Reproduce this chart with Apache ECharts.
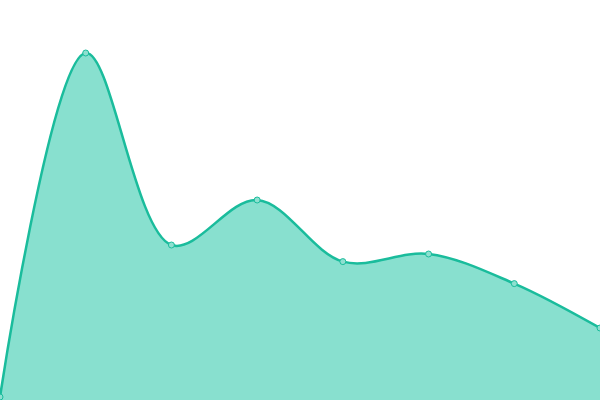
<!DOCTYPE html>
<html>
<head>
<meta charset="utf-8">
<script src="https://cdn.jsdelivr.net/npm/echarts@6/dist/echarts.min.js"></script>
<style>html,body{margin:0;padding:0;background:#fff}#c{width:600px;height:400px}</style>
</head>
<body>
<div id="c"></div>
<script>
const categories = ['1','2','3','4','5','6','7','8'];
const values = [0.75, 86.75, 38.75, 50, 34.6, 36.5, 29.1, 18];

// centripetal Catmull-Rom (alpha 0.5) path through points
function catmullRom(ctx, pts, startWithLine) {
  const alpha = 0.5, eps = 1e-12;
  let x0, y0, x1, y1, x2, y2;
  let l01_a = 0, l12_a = 0, l23_a = 0, l01_2a = 0, l12_2a = 0, l23_2a = 0, p = 0;
  function seg(x, y) {
    let cx1 = x1, cy1 = y1, cx2 = x2, cy2 = y2;
    if (l01_a > eps) {
      const a = 2 * l01_2a + 3 * l01_a * l12_a + l12_2a,
            n = 3 * l01_a * (l01_a + l12_a);
      cx1 = (x1 * a - x0 * l12_2a + x2 * l01_2a) / n;
      cy1 = (y1 * a - y0 * l12_2a + y2 * l01_2a) / n;
    }
    if (l23_a > eps) {
      const b = 2 * l23_2a + 3 * l23_a * l12_a + l12_2a,
            m = 3 * l23_a * (l23_a + l12_a);
      cx2 = (x2 * b + x1 * l23_2a - x * l12_2a) / m;
      cy2 = (y2 * b + y1 * l23_2a - y * l12_2a) / m;
    }
    ctx.bezierCurveTo(cx1, cy1, cx2, cy2, x2, y2);
  }
  function point(x, y) {
    if (p) {
      const dx = x2 - x, dy = y2 - y;
      l23_2a = Math.pow(dx * dx + dy * dy, alpha);
      l23_a = Math.sqrt(l23_2a);
    }
    switch (p) {
      case 0: p = 1; startWithLine ? ctx.lineTo(x, y) : ctx.moveTo(x, y); break;
      case 1: p = 2; break;
      case 2: p = 3; // falls through
      default: seg(x, y); break;
    }
    l01_a = l12_a; l12_a = l23_a; l01_2a = l12_2a; l12_2a = l23_2a;
    x0 = x1; x1 = x2; x2 = x; y0 = y1; y1 = y2; y2 = y;
  }
  pts.forEach(q => point(q[0], q[1]));
  if (p === 2) ctx.lineTo(x2, y2);
  else if (p === 3) point(x2, y2);
}

echarts.graphic.registerShape('crLine', echarts.graphic.extendShape({
  shape: {points: []},
  buildPath(ctx, shape) { catmullRom(ctx, shape.points, false); }
}));
echarts.graphic.registerShape('crArea', echarts.graphic.extendShape({
  shape: {points: [], baseY: 0},
  buildPath(ctx, shape) {
    const pts = shape.points;
    if (!pts.length) return;
    ctx.moveTo(pts[0][0], shape.baseY);
    catmullRom(ctx, pts, true);
    ctx.lineTo(pts[pts.length - 1][0], shape.baseY);
    ctx.closePath();
  }
}));

const chart = echarts.init(document.getElementById('c'));
chart.setOption({
  animation: false,
  grid: {left: 0, right: 0, top: 0, bottom: 0},
  xAxis: {type: 'category', data: categories, boundaryGap: false, show: false},
  yAxis: {type: 'value', min: 0, max: 100, show: false},
  series: [{
    type: 'custom',
    data: values.map((v, k) => [k, v]),
    renderItem(params, api) {
      const i = params.dataIndex;
      const c = api.coord([api.value(0), api.value(1)]);
      const circle = {
        type: 'circle', z2: 10,
        shape: {cx: c[0], cy: c[1], r: 3},
        style: {fill: '#8ee0d0', stroke: '#1abc9c', lineWidth: 1}
      };
      if (i !== 0) return circle;
      const pts = values.map((v, k) => api.coord([k, v]));
      const baseY = api.coord([0, 0])[1];
      return {
        type: 'group',
        children: [
          {type: 'crArea', shape: {points: pts, baseY: baseY}, style: {fill: '#88e0cf', stroke: 'none'}},
          {type: 'crLine', shape: {points: pts}, style: {fill: 'none', stroke: '#1abc9c', lineWidth: 2.5}},
          circle
        ]
      };
    }
  }]
});
</script>
</body>
</html>
